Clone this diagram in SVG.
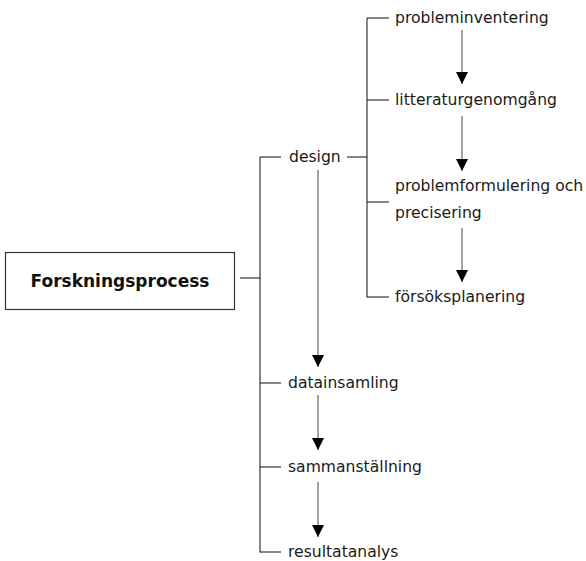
<svg xmlns="http://www.w3.org/2000/svg" width="586" height="561" viewBox="0 0 586 561">
<style>
text{font-family:"DejaVu Sans","Liberation Sans",sans-serif;font-size:15.6px;fill:#1a1a1a}
.title{font-weight:bold;font-size:17px;fill:#111}
.box{fill:#fff;stroke:#333;stroke-width:1.2}
.ln{stroke:#222;stroke-width:1.1;fill:none}
.ar{stroke:#555;stroke-width:1.1;fill:none;marker-end:url(#ah)}
</style>
<defs>
<marker id="ah" markerUnits="userSpaceOnUse" markerWidth="13" markerHeight="13" refX="12" refY="6.5" orient="auto" viewBox="0 0 13 13">
<path d="M0,0.5 L12,6.5 L0,12.5 z" fill="#000"/>
</marker>
</defs>
<rect width="586" height="561" fill="#fff"/>
<g id="connectors">
<line class="ln" x1="240" y1="278" x2="260" y2="278"/>
<line class="ln" x1="260" y1="157" x2="260" y2="552.5"/>
<line class="ln" x1="260" y1="157" x2="281" y2="157"/>
<line class="ln" x1="260" y1="383" x2="281" y2="383"/>
<line class="ln" x1="260" y1="467" x2="281" y2="467"/>
<line class="ln" x1="260" y1="552" x2="281" y2="552"/>
<line class="ln" x1="347" y1="157" x2="367" y2="157"/>
<line class="ln" x1="367" y1="18" x2="367" y2="297.5"/>
<line class="ln" x1="367" y1="18" x2="389" y2="18"/>
<line class="ln" x1="367" y1="100" x2="389" y2="100"/>
<line class="ln" x1="367" y1="202" x2="389" y2="202"/>
<line class="ln" x1="367" y1="297" x2="389" y2="297"/>
<line class="ar" x1="318" y1="170" x2="318" y2="367"/>
<line class="ar" x1="318" y1="395" x2="318" y2="450"/>
<line class="ar" x1="318" y1="482" x2="318" y2="537"/>
<line class="ar" x1="462" y1="30" x2="462" y2="84"/>
<line class="ar" x1="462" y1="116" x2="462" y2="171"/>
<line class="ar" x1="462" y1="228" x2="462" y2="282"/>
</g>
<g id="forskningsprocess">
<rect class="box" x="5.5" y="252.5" width="229" height="57"/>
<text class="title" x="120" y="287" text-anchor="middle">Forskningsprocess</text>
</g>
<g id="design"><text x="289" y="162">design</text></g>
<g id="datainsamling"><text x="288" y="388">datainsamling</text></g>
<g id="sammanstallning"><text x="288" y="472">sammanställning</text></g>
<g id="resultatanalys"><text x="288" y="557">resultatanalys</text></g>
<g id="probleminventering"><text x="395" y="23">probleminventering</text></g>
<g id="litteraturgenomgang"><text x="395" y="105">litteraturgenomgång</text></g>
<g id="problemformulering"><text x="395" y="191">problemformulering och</text><text x="395" y="218">precisering</text></g>
<g id="forsoksplanering"><text x="395" y="302">försöksplanering</text></g>
</svg>
